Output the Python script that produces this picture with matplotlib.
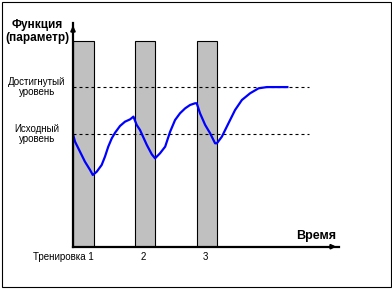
import matplotlib
matplotlib.use("Agg")
import matplotlib.pyplot as plt
from matplotlib.patches import Rectangle
from matplotlib.transforms import blended_transform_factory

# ---- data ----
training_labels = ['Тренировка 1', '2', '3']
training_start = [0, 3, 6]
training_duration = [1, 1, 1]
training_height = [183, 183, 183]

initial_level = 100
achieved_level = 142
level_line_end = 11.46

curve_t = [0, 0.10, 0.34, 0.58, 0.83, 0.96, 1.15, 1.39, 1.55, 1.71, 1.88,
           2.04, 2.28, 2.52, 2.77, 2.93, 3.09, 3.25, 3.58, 3.82, 3.98,
           4.22, 4.47, 4.71, 4.95, 5.19, 5.44, 5.68, 5.92, 6.00, 6.16,
           6.41, 6.65, 6.89, 6.98, 7.22, 7.54, 7.86, 8.19, 8.59, 9.00,
           9.40, 10.45]
curve_y = [100, 93.4, 84.5, 75.6, 68.2, 63.8, 66.7, 72.7, 80.1, 89.0, 96.4,
           101.4, 107.4, 111.2, 113.3, 115.7, 108.3, 103.8, 90.5, 82.2, 78.6,
           83.1, 89.0, 102.3, 112.7, 118.7, 123.1, 126.1, 127.6, 127.6, 118.7,
           108.3, 100.9, 92.0, 92.0, 97.9, 109.8, 121.6, 130.5, 136.5, 140.9,
           142.0, 142.0]

W, H = 392, 289
fig = plt.figure(figsize=(W / 100, H / 100), dpi=100)
plt.rcParams['font.family'] = ['Liberation Sans', 'DejaVu Sans']

ax = fig.add_axes([73 / W, (H - 246.7) / H, 266 / W, (246.7 - 23) / H])
ax.set_xlim(0, 12.9)
ax.set_ylim(0, 199)
for s in ['top', 'right']:
    ax.spines[s].set_visible(False)
for s in ['left', 'bottom']:
    ax.spines[s].set_linewidth(1.6)
    ax.spines[s].set_zorder(5)
ax.set_xticks([])
ax.set_yticks([])

# bars
ax.bar(training_start, training_height, width=training_duration, align='edge',
       color='#c0c0c0', edgecolor='black', linewidth=0.8, zorder=1)

# level lines
for lvl in [initial_level, achieved_level]:
    ax.plot([0, level_line_end], [lvl, lvl], color='black', lw=0.8,
            dashes=(2.7, 2.7), zorder=2)

# curve
ax.plot(curve_t, curve_y, color='#0000ff', lw=1.6, zorder=3, solid_capstyle='butt')

# axis arrows
ax.annotate('', xy=(1.0, 0), xytext=(0.96, 0), xycoords='axes fraction',
            arrowprops=dict(arrowstyle='-|>', color='black', lw=1.6, mutation_scale=6),
            annotation_clip=False)
ax.annotate('', xy=(0, 1.0), xytext=(0, 0.96), xycoords='axes fraction',
            arrowprops=dict(arrowstyle='-|>', color='black', lw=1.6, mutation_scale=6),
            annotation_clip=False)

# labels
def fx(px):
    return px / W

def fy(py):
    return 1 - py / H

fig.text(fx(37), fy(31.7), 'Функция\n(параметр)', ha='center', va='center',
         fontsize=8.5, fontweight='bold', linespacing=1.1)
trans_y = blended_transform_factory(fig.transFigure, ax.transData)
ax.text(fx(37), achieved_level, 'Достигнутый\nуровень', transform=trans_y,
        ha='center', va='center', fontsize=7, linespacing=1.05)
ax.text(fx(37), initial_level, 'Исходный\nуровень', transform=trans_y,
        ha='center', va='center', fontsize=7, linespacing=1.05)

fig.text(fx(316), fy(236), 'Время', ha='center', va='center',
         fontsize=9, fontweight='bold')

trans_x = blended_transform_factory(ax.transData, fig.transFigure)
for i, (lab, st, d) in enumerate(zip(training_labels, training_start, training_duration)):
    if i == 0:
        ax.text(st + d * 0.75 + 0.25, fy(257), lab, transform=trans_x,
                ha='right', va='center', fontsize=7)
    else:
        ax.text(st + d / 2 - 0.1, fy(257), lab, transform=trans_x,
                ha='center', va='center', fontsize=7)

# frame around figure
fig.patches.append(Rectangle((1.5 / W, 2 / H), 389.5 / W, 285.5 / H,
                             transform=fig.transFigure, fill=False,
                             edgecolor='black', linewidth=0.8))

fig.savefig('out.png', dpi=100)
